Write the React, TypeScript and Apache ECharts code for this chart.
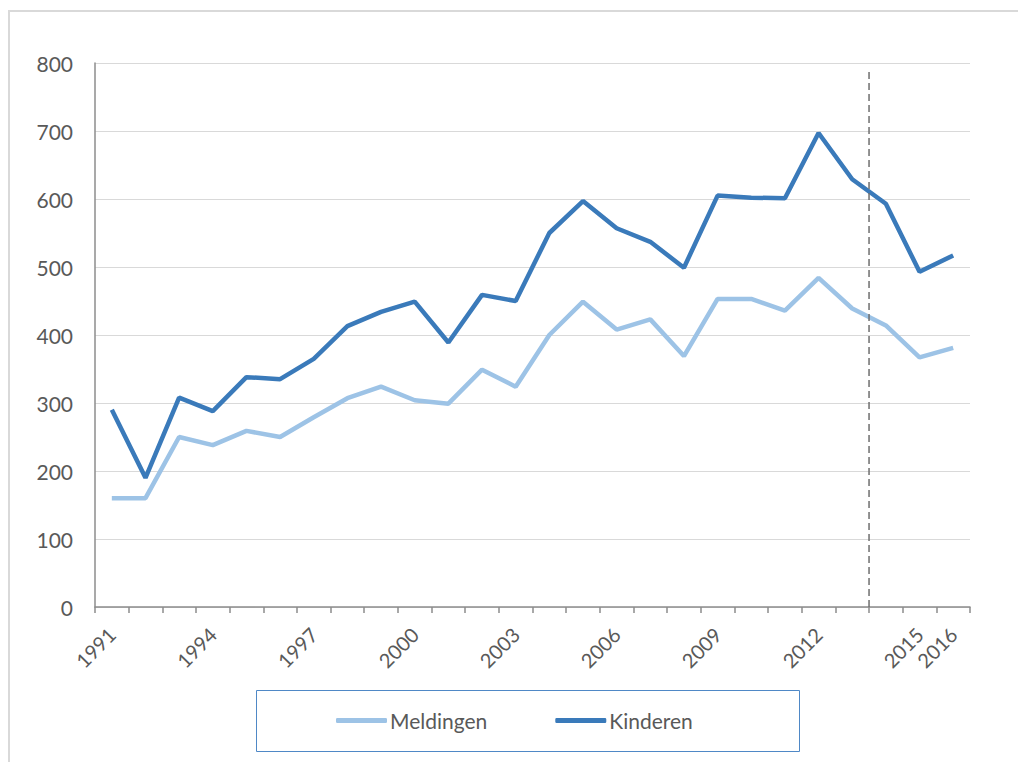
import React, { useEffect, useRef } from "react";
import * as echarts from "echarts";

const years: string[] = [
  "1991", "1992", "1993", "1994", "1995", "1996", "1997", "1998", "1999", "2000",
  "2001", "2002", "2003", "2004", "2005", "2006", "2007", "2008", "2009", "2010",
  "2011", "2012", "2013", "2014", "2015", "2016",
];
const meldingen: number[] = [
  160, 160, 250, 238, 259, 250, 279, 307, 324, 304,
  299, 349, 324, 400, 449, 408, 423, 369, 453, 453,
  436, 484, 439, 414, 367, 381,
];
const kinderen: number[] = [
  290, 190, 308, 288, 338, 335, 365, 413, 434, 449,
  389, 459, 450, 550, 597, 557, 537, 499, 605, 602,
  601, 697, 629, 593, 493, 517,
];
// boundary between 2013 and 2014, as a position on the category span (0..26)
const breakLine: number[][] = [
  [23, 0],
  [23, 788],
];
const shownLabels: string[] = ["1991", "1994", "1997", "2000", "2003", "2006", "2009", "2012", "2015", "2016"];

const FONT = "Lato, 'Noto Sans', sans-serif";
const TEXT = "#595959";

export default function App() {
  const ref = useRef<HTMLDivElement>(null);
  useEffect(() => {
    if (!ref.current) return;
    const chart = echarts.init(ref.current, undefined, { renderer: "svg" });
    chart.setOption({
      animation: false,
      textStyle: { fontFamily: FONT },
      grid: { left: 95, right: 48, top: 63, bottom: 155, containLabel: false },
      graphic: [
        {
          type: "rect",
          shape: { x: 9, y: 11, width: 1030, height: 800 },
          style: { fill: "none", stroke: "#d9d9d9", lineWidth: 2 },
          silent: true,
        },
        {
          type: "rect",
          shape: { x: 256.5, y: 690.5, width: 543, height: 61 },
          style: { fill: "none", stroke: "#4f88c6", lineWidth: 1 },
          silent: true,
        },
      ],
      legend: {
        left: 331,
        top: 705,
        icon: "roundRect",
        itemWidth: 51,
        itemHeight: 5,
        itemGap: 68,
        textStyle: { color: TEXT, fontSize: 21, fontFamily: FONT, padding: [0, 0, 0, -2] },
        data: ["Meldingen", "Kinderen"],
      },
      xAxis: [
        {
          type: "category",
          data: years,
          boundaryGap: true,
          axisLine: { lineStyle: { color: "#8c8c8c", width: 1.5 } },
          axisTick: { show: true, interval: 0, length: 6, lineStyle: { color: "#8c8c8c", width: 1.5 } },
          axisLabel: {
            interval: (i: number, v: string) => shownLabels.indexOf(v) >= 0,
            rotate: 45,
            margin: 24,
            color: TEXT,
            fontSize: 20,
            fontFamily: FONT,
          },
          splitLine: { show: false },
        },
        {
          type: "value",
          min: 0,
          max: 26,
          show: false,
        },
      ],
      yAxis: {
        type: "value",
        min: 0,
        max: 800,
        interval: 100,
        axisLine: { show: true, lineStyle: { color: "#8c8c8c", width: 1.5 } },
        axisTick: { show: false },
        axisLabel: { color: TEXT, fontSize: 21, margin: 22, fontFamily: FONT },
        splitLine: { lineStyle: { color: "#d9d9d9", width: 1.2 } },
      },
      series: [
        {
          name: "Meldingen",
          type: "line",
          data: meldingen,
          symbol: "none",
          lineStyle: { color: "#9dc3e6", width: 4.5 },
          itemStyle: { color: "#9dc3e6" },
          z: 3,
        },
        {
          name: "Kinderen",
          type: "line",
          data: kinderen,
          symbol: "none",
          lineStyle: { color: "#3a7aba", width: 4.5 },
          itemStyle: { color: "#3a7aba" },
          z: 4,
        },
        {
          name: "break",
          type: "line",
          xAxisIndex: 1,
          data: breakLine,
          symbol: "none",
          lineStyle: { color: "#6e6e6e", width: 1.5, type: [7, 4] },
          z: 5,
          silent: true,
        },
      ],
    });
    return () => chart.dispose();
  }, []);
  return <div ref={ref} style={{ position: "absolute", left: 0, top: 0, width: 1018, height: 762 }} />;
}
